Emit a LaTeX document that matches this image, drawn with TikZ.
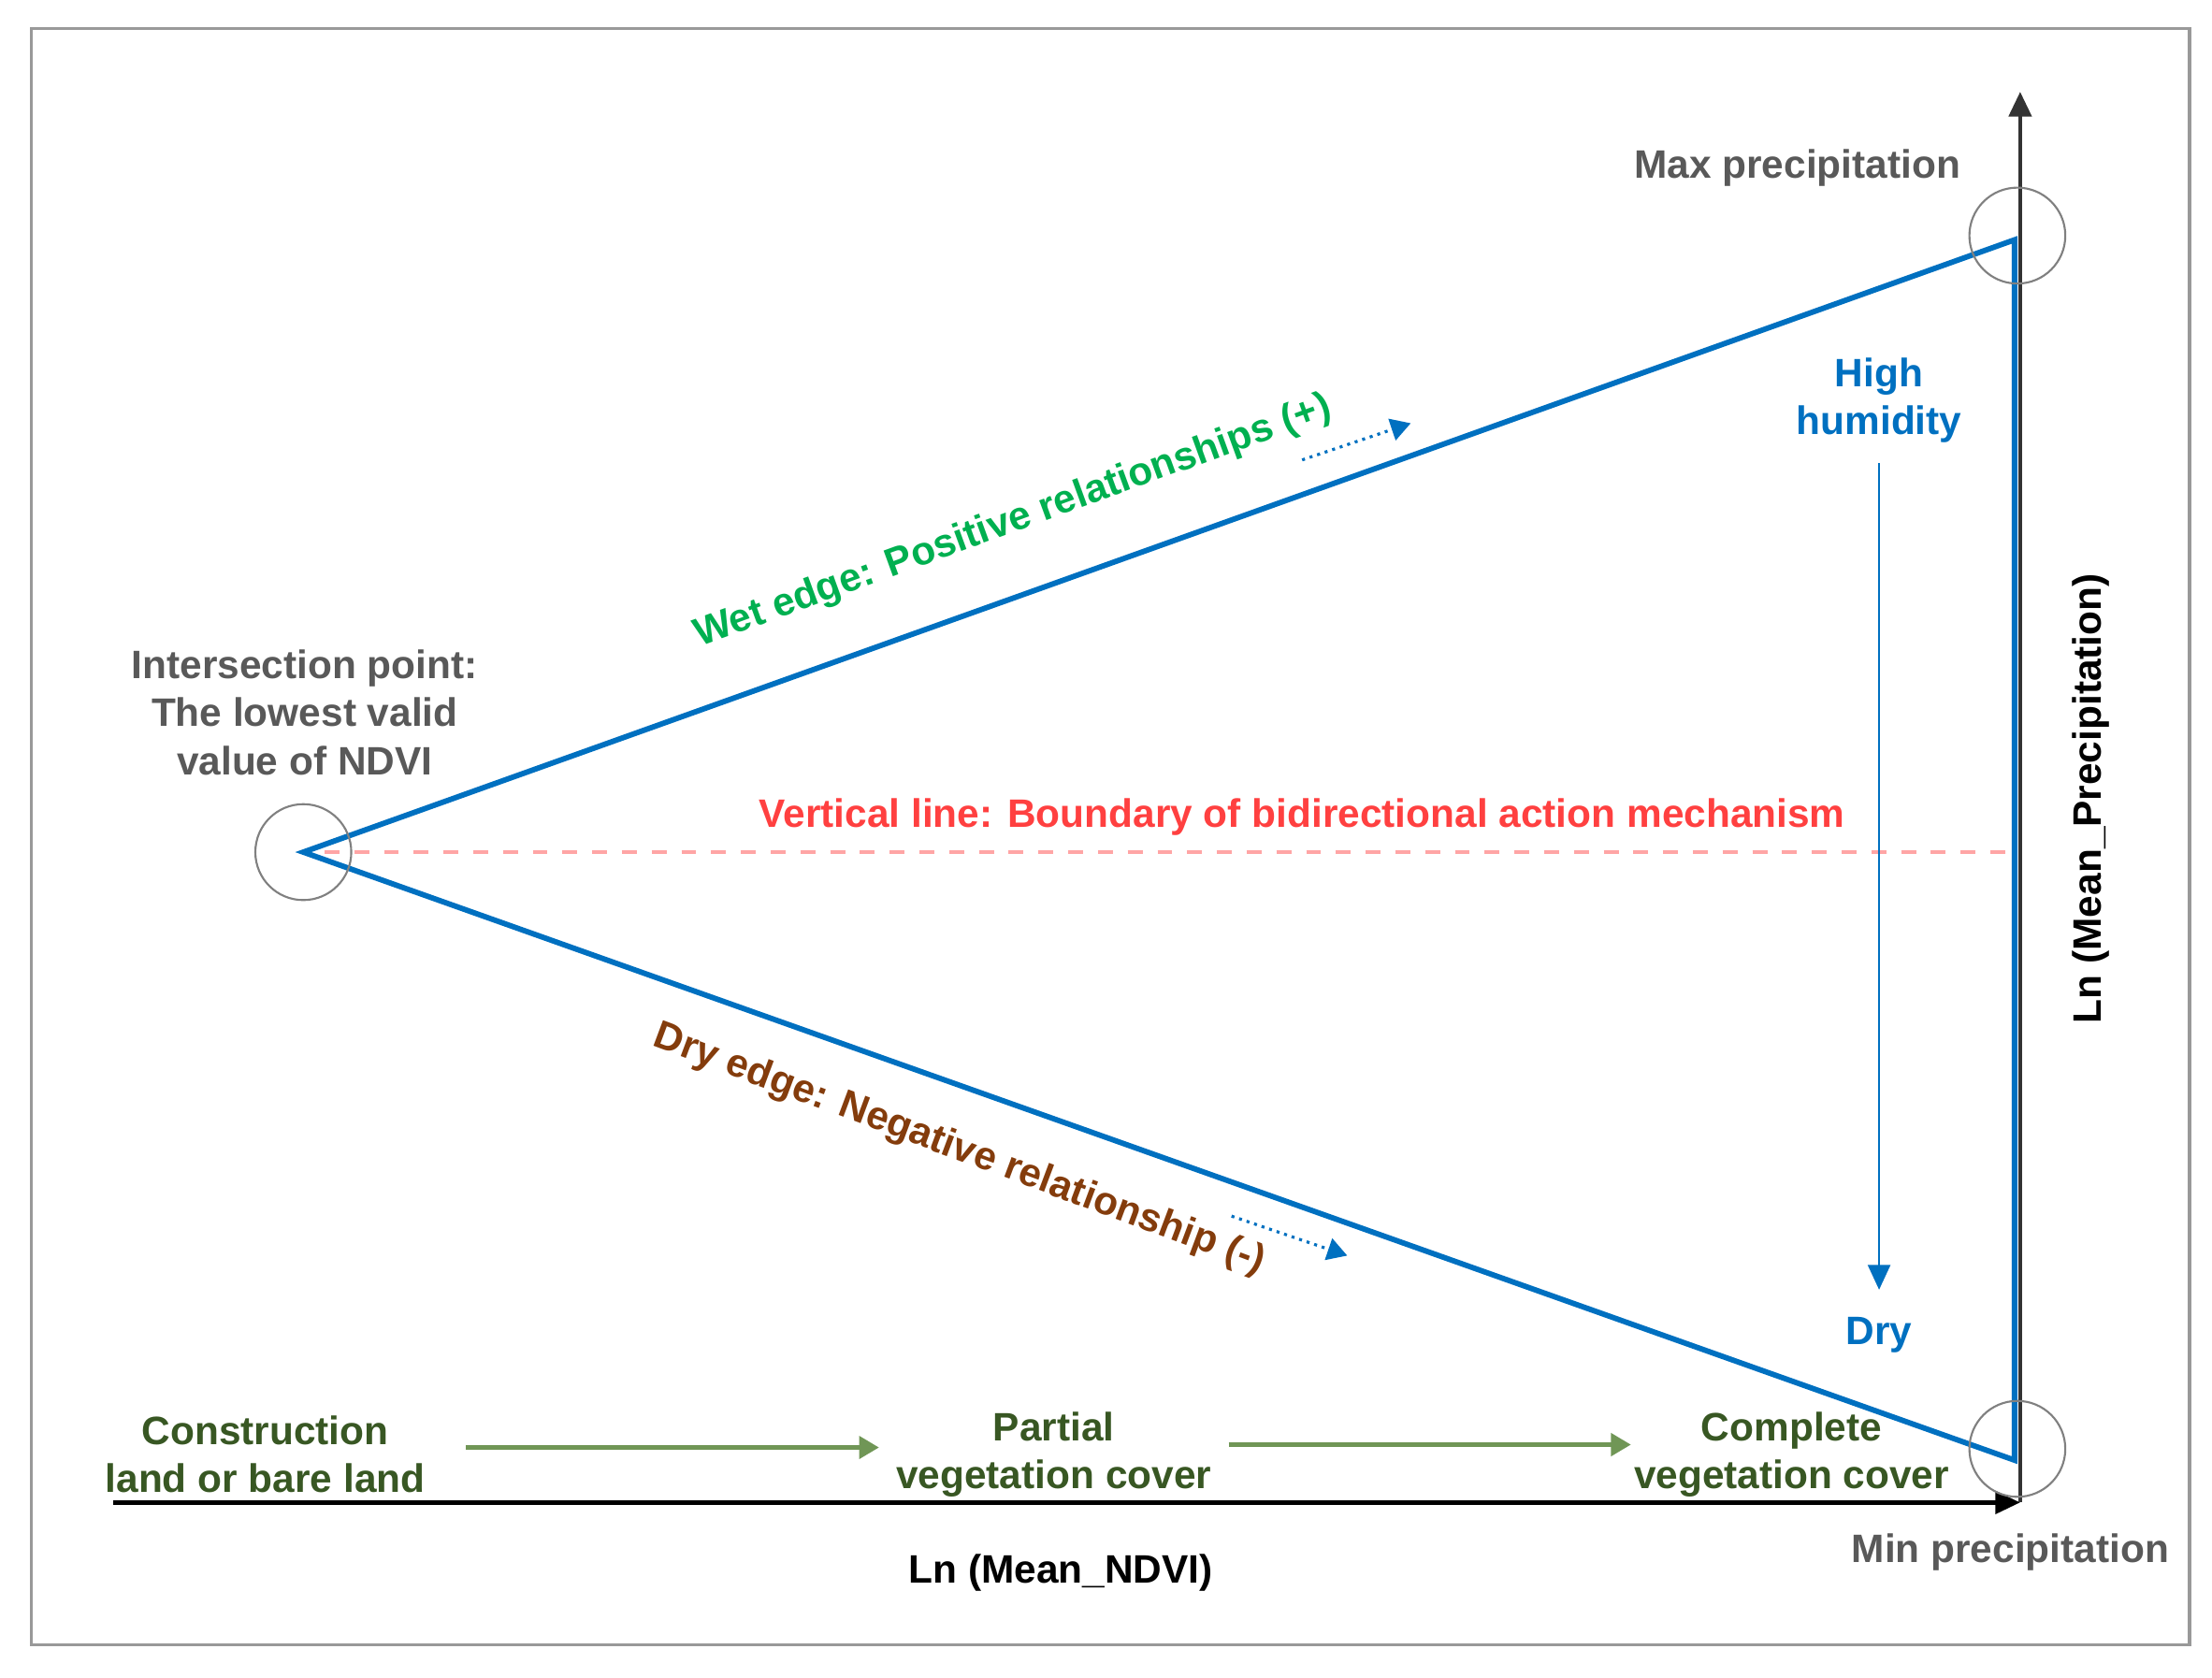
\documentclass[tikz,border=0pt]{standalone}
\usepackage{fontspec}
\setmainfont{Liberation Sans}
\usetikzlibrary{arrows.meta,positioning}
\definecolor{edgeblue}{RGB}{0,112,192}
\definecolor{wetgreen}{RGB}{0,176,80}
\definecolor{drybrown}{RGB}{132,60,12}
\definecolor{covergreen}{RGB}{56,87,35}
\definecolor{arrowgreen}{RGB}{112,150,86}
\definecolor{labelgray}{RGB}{89,89,89}
\definecolor{boundred}{RGB}{255,64,64}
\definecolor{dashred}{RGB}{255,165,165}
\tikzset{
  ring/.style={circle, draw=gray, thin, minimum size=0.68cm, inner sep=0pt},
  lab/.style={align=center, inner sep=1pt},
  stagearrow/.style={->, arrowgreen, line width=0.8pt, >={Triangle[length=4pt,width=4.5pt]}},
  trend/.style={->, edgeblue, densely dotted, line width=0.6pt, >={Triangle[length=4pt,width=4.5pt]}}
}
\begin{document}
\begin{tikzpicture}[x=1cm, y=-1cm, font=\bfseries\fontsize{8}{9.65}\selectfont]
        \useasboundingbox (0,0) rectangle (15.68,11.89);
        \draw[gray!80, line width=0.6pt] (0.22,0.20) rectangle (15.52,11.66);
        % corners of the triangle
        \coordinate (A) at (2.15,6.04);
        \coordinate (B) at (14.28,1.70);
        \coordinate (C) at (14.28,10.35);
        \coordinate (M) at (14.24,6.04);
        % axes
        \coordinate (O)  at (14.32,10.65);
        \coordinate (xs) at (0.80,10.65);
        \coordinate (yt) at (14.32,0.65);
        \draw[->, black, line width=0.9pt, >={Triangle[length=5pt,width=4.5pt]}] (xs) -- (O);
        \draw[->, black!80, line width=0.9pt, >={Triangle[length=5pt,width=4.5pt]}] (O) -- (yt);
        \draw[dashred, dashed, line width=0.8pt, shorten <=0.15cm] (A) -- (M);
        \draw[edgeblue, line width=1.1pt] (A) -- (B) -- (C) -- cycle;
        \node[ring] (ringA) at (A) {};
        \node[ring] (ringB) at (14.30,1.67) {};
        \node[ring] (ringC) at (14.30,10.27) {};

        \node[lab, labelgray] (maxp)  at (12.74,1.19) {Max precipitation};
        \node[lab, labelgray] (minp)  at (14.25,11.00) {Min precipitation};
        \node[lab, labelgray] (inter) at (2.16,5.05) {Intersection point:\\The lowest valid\\value of NDVI};
        \node[lab, boundred]  (bound) at (9.23,5.79) {Vertical line: Boundary of bidirectional action mechanism};

        \node[lab, edgeblue] (high) at (13.32,2.84) {High\\humidity};
        \node[lab, edgeblue] (dry)  at (13.32,9.46) {Dry};
        \draw[->, edgeblue, line width=0.5pt, >={Triangle[length=5pt,width=4.5pt]}, shorten <=0.1cm, shorten >=0.15cm] (high) -- (dry);

        \node[lab, wetgreen, rotate=20] (wet) at (7.18,3.70) {Wet edge: Positive relationships (+)};
        \coordinate (wet1) at (9.23,3.26);
        \coordinate (wet2) at (10.00,3.00);
        \draw[trend] (wet1) -- (wet2);
        \node[lab, drybrown, rotate=-20.5] (dryedge) at (6.80,8.15) {Dry edge: Negative relationship (-)};
        \coordinate (dry1) at (8.73,8.62);
        \coordinate (dry2) at (9.55,8.90);
        \draw[trend] (dry1) -- (dry2);

        \node[lab, covergreen] (bare)     at (1.88,10.31) {Construction\\land or bare land};
        \node[lab, covergreen] (partial)  at (7.47,10.31) {Partial\\vegetation cover};
        \node[lab, covergreen] (complete) at (12.70,10.31) {Complete\\vegetation cover};
        \draw[stagearrow, shorten <=0.25cm, shorten >=0.08cm] ([yshift=0.05cm]bare.east) -- ([yshift=0.05cm]partial.west);
        \draw[stagearrow, shorten <=0.08cm, shorten >=-0.02cm] ([yshift=0.07cm]partial.east) -- ([yshift=0.07cm]complete.west);

        \node[lab, black] (xlab) at (7.52,11.15) {Ln (Mean\_NDVI)};
        \node[lab, black, rotate=90] (ylab) at (14.82,5.66) {Ln (Mean\_Precipitation)};
      \end{tikzpicture}
\end{document}
